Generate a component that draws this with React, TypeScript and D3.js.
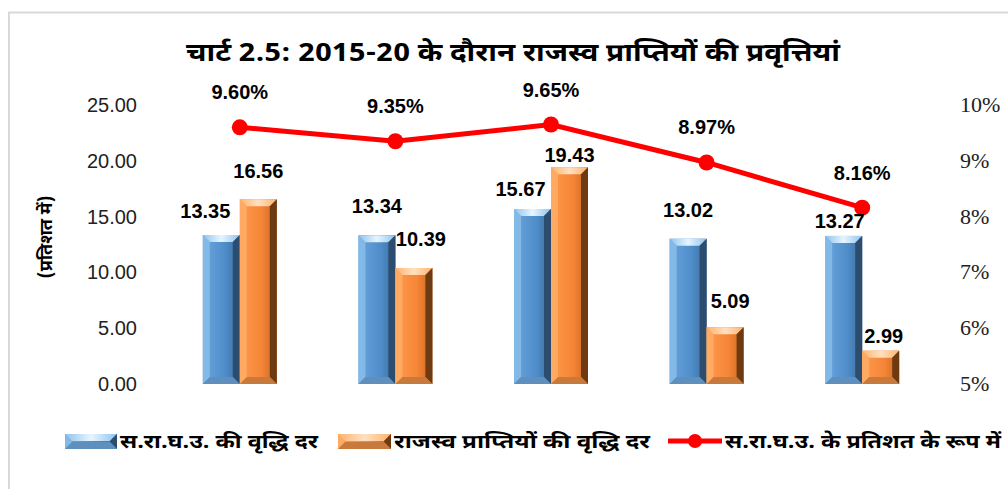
import React from "react";
import * as d3 from "d3";

const categories = ["2015-16", "2016-17", "2017-18", "2018-19", "2019-20"];
const gsdpGrowth = [13.35, 13.34, 15.67, 13.02, 13.27];
const revenueGrowth = [16.56, 10.39, 19.43, 5.09, 2.99];
const revenuePctGsdp = [9.6, 9.35, 9.65, 8.97, 8.16];
const leftTicks = [0, 5, 10, 15, 20, 25];
const rightTicks = [5, 6, 7, 8, 9, 10];
const seriesNames = [
  "स.रा.घ.उ. की वृद्धि दर",
  "राजस्व प्राप्तियों की वृद्धि दर",
  "स.रा.घ.उ. के प्रतिशत के रूप में",
];
const title = "चार्ट 2.5: 2015-20 के दौरान राजस्व प्राप्तियों की प्रवृत्तियां";
const yTitle = "(प्रतिशत में)";

// layout: manual label nudges (as placed in the original chart)
const blueNudgeX = [-16, 0, -12, 0, -4];
const blueNudgeY = [17, 22, 13, 22, 8];
const orangeNudgeX = [0, 7, 0, 5, 3];
const orangeNudgeY = [21, 22, 5, 19, 8];

const W = 1008;
const H = 489;
const DEV = "'Noto Sans Devanagari','Lohit Devanagari','Mangal','Liberation Sans',Arial,sans-serif";
const SANS = "'Liberation Sans',Arial,sans-serif";
const SERIF = "Liberation Serif, Tinos, DejaVu Serif, Noto Serif, serif";

type Pal = { face0: string; face1: string; face2: string; left: string; right: string; top: string; hi: string; bottom: string };
const bluePal: Pal = {
  face0: "#6aa6de", face1: "#4f8dca", face2: "#3b6c9c",
  left: "#86bbe8", right: "#2c4d6d", top: "#8fc3ee", hi: "#e6f5ff", bottom: "#5f8fbd",
};
const orangePal: Pal = {
  face0: "#ff9a4d", face1: "#f58537", face2: "#c9651f",
  left: "#ffac66", right: "#6e3a12", top: "#ffb36e", hi: "#ffe0bf", bottom: "#c77a3c",
};

function BevelBar({ x, y, w, h, pal, id }: { x: number; y: number; w: number; h: number; pal: Pal; id: string }) {
  const b = Math.min(7, h / 2, w / 4);
  const gid = `g-${id}`;
  const tid = `t-${id}`;
  return (
    <g>
      <defs>
        <linearGradient id={gid} x1="0" x2="1" y1="0" y2="0">
          <stop offset="0" stopColor={pal.face0} />
          <stop offset="0.6" stopColor={pal.face1} />
          <stop offset="1" stopColor={pal.face2} />
        </linearGradient>
        <linearGradient id={tid} x1="0" x2="1" y1="0" y2="0">
          <stop offset="0" stopColor={pal.top} />
          <stop offset="0.5" stopColor={pal.hi} />
          <stop offset="1" stopColor={pal.top} />
        </linearGradient>
      </defs>
      <rect x={x} y={y} width={w} height={h} fill={`url(#${gid})`} />
      <polygon points={`${x},${y} ${x + w},${y} ${x + w - b},${y + b} ${x + b},${y + b}`} fill={`url(#${tid})`} />
      <polygon points={`${x},${y} ${x + b},${y + b} ${x + b},${y + h - b} ${x},${y + h}`} fill={pal.left} opacity={0.9} />
      <polygon points={`${x + w},${y} ${x + w},${y + h} ${x + w - b},${y + h - b} ${x + w - b},${y + b}`} fill={pal.right} />
      <polygon points={`${x},${y + h} ${x + b},${y + h - b} ${x + w - b},${y + h - b} ${x + w},${y + h}`} fill={pal.bottom} />
    </g>
  );
}

export default function App() {
  const plotL = 162;
  const plotR = 940;
  const yBase = 384;
  const yTop = 105;
  const x0 = d3.scaleBand<string>().domain(categories).range([plotL, plotR]).padding(0);
  const groupW = 74;
  const x1 = d3.scaleBand<string>().domain(["a", "b"]).range([0, groupW]).padding(0);
  const yL = d3.scaleLinear().domain([0, 25]).range([yBase, yTop]);
  const yR = d3.scaleLinear().domain([5, 10]).range([yBase, yTop]);
  const fmt2 = d3.format(".2f");
  const groupX = (c: string) => (x0(c) as number) + (x0.bandwidth() - groupW) / 2;
  const cx = (c: string) => (x0(c) as number) + x0.bandwidth() / 2;

  const line = d3
    .line<number>()
    .x((_, i) => cx(categories[i]))
    .y((d) => yR(d));

  return (
    <svg width={W} height={H} style={{ position: "absolute", left: 0, top: 0, background: "#fff" }}>
      <rect x={0} y={0} width={W} height={H} fill="#fff" />
      <path d={`M9,${H} L9,12.5 L${W},12.5`} fill="none" stroke="#d9d9d9" strokeWidth={2} />

      <text x={513} y={61} textAnchor="middle" style={{ fontFamily: DEV }} fontWeight="bold" fontSize={25} textLength={654} lengthAdjust="spacingAndGlyphs">
        {title}
      </text>

      <text transform={`translate(52,237) rotate(-90)`} textAnchor="middle" style={{ fontFamily: DEV }} fontWeight="bold" fontSize={18}>
        {yTitle}
      </text>

      {leftTicks.map((t) => (
        <text key={`l${t}`} x={137} y={yL(t) + 7} textAnchor="end" style={{ fontFamily: SANS }} fontSize={20} fill="#222">
          {fmt2(t)}
        </text>
      ))}
      {rightTicks.map((t) => (
        <text key={`r${t}`} x={960} y={yR(t) + 7} textAnchor="start" fontFamily={SERIF} fontSize={22} fill="#222">
          {`${t}%`}
        </text>
      ))}

      {categories.map((c, i) => {
        const gx = groupX(c);
        const bw = x1.bandwidth();
        const ax = gx + (x1("a") as number);
        const bx = gx + (x1("b") as number);
        const ay = yL(gsdpGrowth[i]);
        const by = yL(revenueGrowth[i]);
        return (
          <g key={c}>
            <BevelBar x={ax} y={ay} w={bw} h={yBase - ay} pal={bluePal} id={`a${i}`} />
            <BevelBar x={bx} y={by} w={bw} h={yBase - by} pal={orangePal} id={`b${i}`} />
          </g>
        );
      })}

      <path d={line(revenuePctGsdp) || ""} fill="none" stroke="#ff0000" strokeWidth={5} />
      {revenuePctGsdp.map((v, i) => (
        <g key={`p${i}`}>
          <circle cx={cx(categories[i])} cy={yR(v)} r={8} fill="#ff0000" />
          <text x={cx(categories[i])} y={yR(v) - 28} textAnchor="middle" style={{ fontFamily: SANS }} fontWeight="bold" fontSize={20}>
            {`${v.toFixed(2)}%`}
          </text>
        </g>
      ))}

      {categories.map((c, i) => {
        const gx = groupX(c);
        const bw = x1.bandwidth();
        const ax = gx + (x1("a") as number);
        const bx = gx + (x1("b") as number);
        return (
          <g key={`lab${c}`}>
            <text x={ax + bw / 2 + blueNudgeX[i]} y={yL(gsdpGrowth[i]) - blueNudgeY[i]} textAnchor="middle" style={{ fontFamily: SANS }} fontWeight="bold" fontSize={20}>
              {fmt2(gsdpGrowth[i])}
            </text>
            <text x={bx + bw / 2 + orangeNudgeX[i]} y={yL(revenueGrowth[i]) - orangeNudgeY[i]} textAnchor="middle" style={{ fontFamily: SANS }} fontWeight="bold" fontSize={20}>
              {fmt2(revenueGrowth[i])}
            </text>
          </g>
        );
      })}

      {/* legend */}
      <BevelBar x={65} y={434} w={52} h={15} pal={bluePal} id="lg1" />
      <text x={120} y={448} style={{ fontFamily: DEV }} fontWeight="bold" fontSize={19} textLength={198} lengthAdjust="spacingAndGlyphs">
        {seriesNames[0]}
      </text>
      <BevelBar x={338} y={434} w={53} h={15} pal={orangePal} id="lg2" />
      <text x={394} y={448} style={{ fontFamily: DEV }} fontWeight="bold" fontSize={19} textLength={256} lengthAdjust="spacingAndGlyphs">
        {seriesNames[1]}
      </text>
      <line x1={668} x2={722} y1={441} y2={441} stroke="#ff0000" strokeWidth={5} />
      <circle cx={695} cy={441} r={7} fill="#ff0000" />
      <text x={725} y={448} style={{ fontFamily: DEV }} fontWeight="bold" fontSize={19} textLength={276} lengthAdjust="spacingAndGlyphs">
        {seriesNames[2]}
      </text>
    </svg>
  );
}
